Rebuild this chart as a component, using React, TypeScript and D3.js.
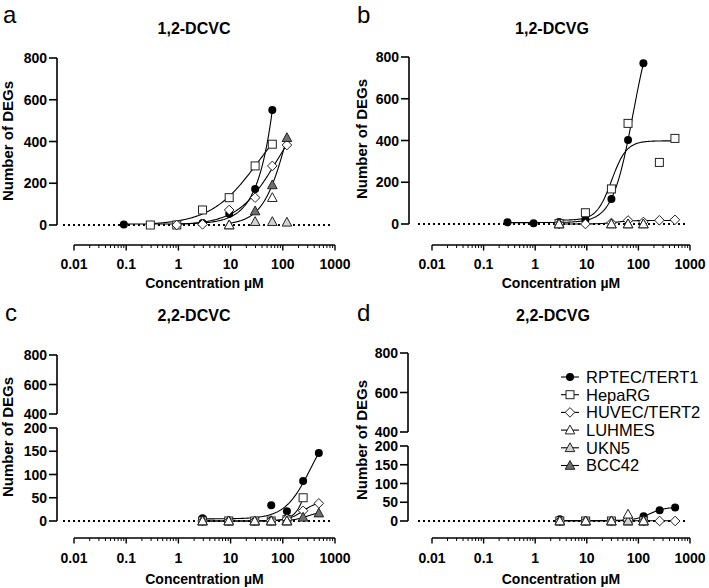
import React from "react";
import * as d3 from "d3";

const FONT = "'Liberation Sans', Arial, Helvetica, sans-serif";

const cellLines = ["RPTEC/TERT1", "HepaRG", "HUVEC/TERT2", "LUHMES", "UKN5", "BCC42"];
const xTickValues = [0.01, 0.1, 1, 10, 100, 1000];
const xTickLabels = ["0.01", "0.1", "1", "10", "100", "1000"];
const yTicksFull = [0, 200, 400, 600, 800];
const yTicksUpper = [400, 600, 800];
const yTicksLower = [0, 50, 100, 150, 200];

// Panel a: 1,2-DCVC
const concA = [0.09, 0.29, 0.93, 2.9, 9.4, 29.5, 63, 120];
const aRPTEC = [2, 0, 0, 10, 54, 172, 551, null];
const aHepaRG = [null, 0, 0, 72, 131, 283, 387, null];
const aHUVEC = [null, null, 0, 3, 72, 131, 283, 383];
const aLUHMES = [null, null, null, null, 0, null, 131, null];
const aUKN5 = [null, null, null, null, null, 16, 16, 13];
const aBCC42 = [null, null, null, null, 0, 67, 192, 418];

// Panel b: 1,2-DCVG
const concB = [0.29, 0.93, 2.9, 9.4, 30, 63, 125, 255, 510];
const bRPTEC = [8, 3, 10, 20, 120, 402, 770, null, null];
const bHepaRG = [null, null, 2, 54, 168, 482, null, 295, 410];
const bHUVEC = [null, null, 0, 0, 5, 17, 10, 18, 20];
const bLUHMES = [null, null, 0, null, 0, 0, 0, null, null];
const bUKN5 = [null, null, 0, null, 0, 0, 0, null, null];
const bBCC42 = [null, null, null, null, null, null, null, null, null];

// Panel c: 2,2-DCVC
const concC = [2.9, 9.2, 29, 60, 120, 245, 490];
const cRPTEC = [6, 1, 0, 34, 21, 86, 146];
const cHepaRG = [0, 0, 0, 0, 3, 50, null];
const cHUVEC = [0, 0, 0, 1, 4, 22, 38];
const cLUHMES = [0, 0, 0, 0, 0, null, null];
const cUKN5 = [0, 0, 0, 0, 0, null, null];
const cBCC42 = [null, null, null, null, 0, 8, 17];

// Panel d: 2,2-DCVG
const concD = [3, 9.5, 30, 63, 126, 258, 515];
const dRPTEC = [5, 0, 0, 2, 13, 29, 36];
const dHepaRG = [0, 0, 0, 0, 0, null, null];
const dHUVEC = [0, 0, 0, 3, 0, 0, 0];
const dLUHMES = [0, 0, 0, 18, 0, null, null];
const dUKN5 = [0, 0, 0, 0, 0, null, null];
const dBCC42 = [null, null, null, null, null, null, null];

// which series carry a fitted curve (index into cellLines)
const fittedA = [0, 1, 2, 5];
const fittedB = [0, 1, 2];
const fittedC = [0, 1, 2, 5];
const fittedD = [0, 2];

const markerStyle = [
  { shape: "circle", fill: "#000" },
  { shape: "square", fill: "#fff" },
  { shape: "diamond", fill: "#fff" },
  { shape: "triangle", fill: "#fff" },
  { shape: "triangle", fill: "#d2d2d2" },
  { shape: "triangle", fill: "#6e6e6e" },
];

function hillFit(xs: number[], ys: number[]) {
  let best = { sse: Infinity, B: 0, T: 0, ec: 1, h: 1 };
  for (let le = -1.5; le <= 4.0001; le += 0.02) {
    const ec = Math.pow(10, le);
    for (let h = 0.5; h <= 3.0001; h += 0.05) {
      const f = xs.map((x) => 1 / (1 + Math.pow(ec / x, h)));
      let sgg = 0, sff = 0, sgf = 0, sgy = 0, sfy = 0;
      f.forEach((fi, i) => {
        const gi = 1 - fi;
        sgg += gi * gi; sff += fi * fi; sgf += gi * fi;
        sgy += gi * ys[i]; sfy += fi * ys[i];
      });
      const det = sgg * sff - sgf * sgf;
      let B: number, T: number;
      if (Math.abs(det) < 1e-9) {
        B = d3.mean(ys) as number; T = B;
      } else {
        B = (sgy * sff - sfy * sgf) / det;
        T = (sgg * sfy - sgf * sgy) / det;
      }
      if (B < 0) B = 0;
      let sse = 0;
      xs.forEach((x, i) => {
        const p = B + (T - B) * f[i];
        sse += (p - ys[i]) * (p - ys[i]);
      });
      if (sse < best.sse) best = { sse, B, T, ec, h };
    }
  }
  return best;
}

function Marker({ shape, fill, cx, cy }: any) {
  const stroke = "#222";
  if (shape === "circle") return <circle cx={cx} cy={cy} r={4} fill={fill} />;
  if (shape === "square")
    return <rect x={cx - 4} y={cy - 4} width={8} height={8} fill={fill} stroke={stroke} strokeWidth={1} />;
  if (shape === "diamond")
    return <path d={`M${cx},${cy - 4.8}L${cx + 4.8},${cy}L${cx},${cy + 4.8}L${cx - 4.8},${cy}Z`} fill={fill} stroke={stroke} strokeWidth={1} />;
  return <path d={`M${cx},${cy - 5}L${cx + 4.8},${cy + 3.8}L${cx - 4.8},${cy + 3.8}Z`} fill={fill} stroke={stroke} strokeWidth={1} />;
}

function Panel({ L, conc, series, fitted, broken }: any) {
  const x = d3.scaleLog().domain([0.01, 1000]).range([L.x0, L.x1]);
  let y: (v: number) => number;
  let yUp: any = null, yLo: any = null, yFull: any = null;
  if (broken) {
    yLo = d3.scaleLinear().domain([0, 200]).range([L.y0, L.y200]);
    yUp = d3.scaleLinear().domain([400, 800]).range([L.y400, L.y800]);
    y = (v: number) => (v <= 200 ? yLo(v) : yUp(v));
  } else {
    yFull = d3.scaleLinear().domain([0, 800]).range([L.y0, L.y800]);
    y = (v: number) => yFull(v);
  }
  const minor: number[] = [];
  for (let e = -2; e < 3; e++) for (let k = 2; k <= 9; k++) minor.push(k * Math.pow(10, e));

  const line = d3.line<[number, number]>().x((d) => x(d[0])).y((d) => y(Math.max(0, d[1])));

  const curves = fitted.map((si: number) => {
    const pts = conc.map((c: number, i: number) => [c, series[si][i]]).filter((p: any) => p[1] !== null);
    const xs = pts.map((p: any) => p[0]);
    const ys = pts.map((p: any) => p[1]);
    const fit = hillFit(xs, ys);
    const lo = Math.log10(d3.min(xs) as number), hi = Math.log10(d3.max(xs) as number);
    const samples: [number, number][] = d3.range(0, 121).map((i) => {
      const xv = Math.pow(10, lo + ((hi - lo) * i) / 120);
      return [xv, fit.B + (fit.T - fit.B) / (1 + Math.pow(fit.ec / xv, fit.h))];
    });
    return <path key={si} d={line(samples) as string} fill="none" stroke="#000" strokeWidth={1.1} />;
  });

  const yTick = (v: number, key: string) => (
    <g key={key}>
      <line x1={L.yAxisX - 8} x2={L.yAxisX} y1={y(v)} y2={y(v)} stroke="#000" strokeWidth={1.6} />
      <text x={L.yAxisX - 10} y={y(v)} dy="0.36em" textAnchor="end" fontSize={14} fontWeight="bold" fontFamily={FONT}>{v}</text>
    </g>
  );

  return (
    <g>
      <text x={L.letterX} y={L.letterY} fontSize={24} fontFamily={FONT}>{L.letter}</text>
      <text x={L.titleX} y={L.titleY} textAnchor="middle" fontSize={16} fontWeight="bold" fontFamily={FONT}>{L.title}</text>
      <text transform={`translate(${L.ylabX},${L.ylabY}) rotate(-90)`} textAnchor="middle" fontSize={15} fontWeight="bold" fontFamily={FONT}>Number of DEGs</text>
      {broken ? (
        <g>
          <line x1={L.yAxisX} x2={L.yAxisX} y1={yUp(400)} y2={yUp(800)} stroke="#000" strokeWidth={1.6} />
          <line x1={L.yAxisX} x2={L.yAxisX} y1={yLo(0)} y2={yLo(200)} stroke="#000" strokeWidth={1.6} />
          {yTicksUpper.map((v) => yTick(v, "u" + v))}
          {yTicksLower.map((v) => yTick(v, "l" + v))}
        </g>
      ) : (
        <g>
          <line x1={L.yAxisX} x2={L.yAxisX} y1={yFull(0)} y2={yFull(800)} stroke="#000" strokeWidth={1.6} />
          {yTicksFull.map((v) => yTick(v, "f" + v))}
        </g>
      )}
      <line x1={L.x0} x2={L.x1} y1={L.xAxisY} y2={L.xAxisY} stroke="#000" strokeWidth={1.6} />
      {xTickValues.map((v, i) => (
        <g key={"xt" + v}>
          <line x1={x(v)} x2={x(v)} y1={L.xAxisY} y2={L.xAxisY + 5.5} stroke="#000" strokeWidth={1.4} />
          <text x={x(v)} y={L.xTickY} textAnchor="middle" fontSize={14} fontWeight="bold" fontFamily={FONT}>{xTickLabels[i]}</text>
        </g>
      ))}
      {minor.map((v) => (
        <line key={"mn" + v} x1={x(v)} x2={x(v)} y1={L.xAxisY} y2={L.xAxisY + 3} stroke="#000" strokeWidth={1} />
      ))}
      <text x={(L.x0 + L.x1) / 2} y={L.xLabY} textAnchor="middle" fontSize={14} fontWeight="bold" fontFamily={FONT}>Concentration µM</text>
      <line x1={L.dotX0} x2={L.dotX1} y1={y(0)} y2={y(0)} stroke="#000" strokeWidth={2} strokeDasharray="2 3" />
      {curves}
      {[0, 1, 2, 5, 4, 3].map((si) =>
        conc.map((c: number, i: number) =>
          series[si][i] === null ? null : (
            <Marker key={si + "-" + i} shape={markerStyle[si].shape} fill={markerStyle[si].fill} cx={x(c)} cy={y(series[si][i])} />
          )
        )
      )}
    </g>
  );
}

const layoutA = { letter: "a", letterX: 3, letterY: 23, title: "1,2-DCVC", titleX: 194, titleY: 34, ylabX: 13, ylabY: 141,
  x0: 74, x1: 335, yAxisX: 57, y0: 225, y800: 58, xAxisY: 245, xTickY: 269, xLabY: 288, dotX0: 63, dotX1: 330 };
const layoutB = { letter: "b", letterX: 357, letterY: 23, title: "1,2-DCVG", titleX: 552, titleY: 34, ylabX: 367, ylabY: 139,
  x0: 432, x1: 690, yAxisX: 409, y0: 224, y800: 57, xAxisY: 245, xTickY: 269, xLabY: 288, dotX0: 418, dotX1: 688 };
const layoutC = { letter: "c", letterX: 5, letterY: 321, title: "2,2-DCVC", titleX: 194, titleY: 321, ylabX: 13, ylabY: 437,
  x0: 74, x1: 335, yAxisX: 57, y0: 521, y200: 428, y400: 414, y800: 355, xAxisY: 538, xTickY: 563, xLabY: 584, dotX0: 63, dotX1: 330 };
const layoutD = { letter: "d", letterX: 357, letterY: 321, title: "2,2-DCVG", titleX: 553, titleY: 321, ylabX: 367, ylabY: 440,
  x0: 432, x1: 690, yAxisX: 408, y0: 521, y200: 446, y400: 432, y800: 353, xAxisY: 538, xTickY: 563, xLabY: 584, dotX0: 418, dotX1: 688 };

function Legend() {
  const y0 = 377, dy = 17.7;
  return (
    <g>
      {cellLines.map((name, i) => (
        <g key={name}>
          <line x1={561} x2={579} y1={y0 + i * dy} y2={y0 + i * dy} stroke="#000" strokeWidth={1.1} />
          <Marker shape={markerStyle[i].shape} fill={markerStyle[i].fill} cx={570} cy={y0 + i * dy} />
          <text x={586} y={y0 + i * dy} dy="0.36em" fontSize={16.5} fontFamily={FONT}>{name}</text>
        </g>
      ))}
    </g>
  );
}

export default function App() {
  return (
    <svg width={709} height={588} style={{ position: "absolute", left: 0, top: 0, background: "#fff" }}>
      <rect width={709} height={588} fill="#fff" />
      <Panel L={layoutA} conc={concA} series={[aRPTEC, aHepaRG, aHUVEC, aLUHMES, aUKN5, aBCC42]} fitted={fittedA} broken={false} />
      <Panel L={layoutB} conc={concB} series={[bRPTEC, bHepaRG, bHUVEC, bLUHMES, bUKN5, bBCC42]} fitted={fittedB} broken={false} />
      <Panel L={layoutC} conc={concC} series={[cRPTEC, cHepaRG, cHUVEC, cLUHMES, cUKN5, cBCC42]} fitted={fittedC} broken={true} />
      <Panel L={layoutD} conc={concD} series={[dRPTEC, dHepaRG, dHUVEC, dLUHMES, dUKN5, dBCC42]} fitted={fittedD} broken={true} />
      <Legend />
    </svg>
  );
}
